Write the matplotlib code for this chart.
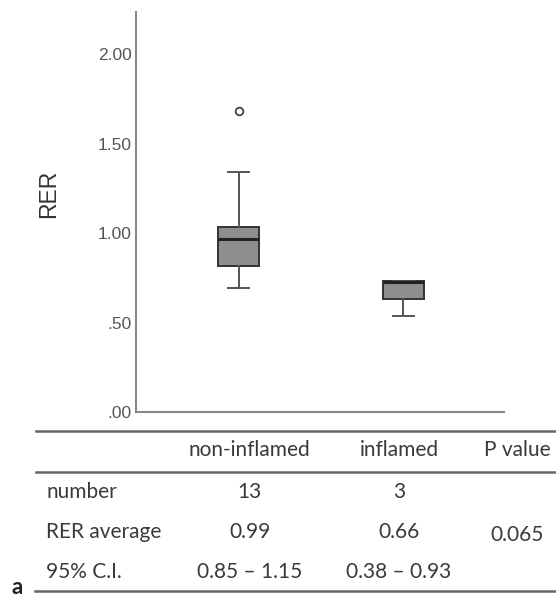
import matplotlib.pyplot as plt

# box statistics
groups = ["non-inflamed", "inflamed"]
q1 = [0.816, 0.63]
med = [0.965, 0.725]
q3 = [1.035, 0.732]
whislo = [0.691, 0.538]
whishi = [1.339, 0.732]
outliers = [[1.683], []]

yticks = [0.0, 0.5, 1.0, 1.5, 2.0]
yticklabels = [".00", ".50", "1.00", "1.50", "2.00"]

# table under the chart
header = ["non-inflamed", "inflamed", "P value"]
row_names = ["number", "RER average", "95% C.I."]
row_vals = [["13", "3", ""],
            ["0.99", "0.66", "0.065"],
            ["0.85 \u2013 1.15", "0.38 \u2013 0.93", ""]]

fig = plt.figure(figsize=(5.56, 5.96), dpi=100)
W, H = 556, 596
# axes box in pixels: x 136..504, y 12..412
ax = fig.add_axes([136 / W, 1 - 412 / H, (504 - 136) / W, (412 - 12) / H])

stats = []
for i in range(len(groups)):
    stats.append(dict(q1=q1[i], med=med[i], q3=q3[i], whislo=whislo[i],
                      whishi=whishi[i], fliers=outliers[i]))

ax.bxp(stats, positions=[1, 2], widths=0.25, patch_artist=True, showcaps=True,
       boxprops=dict(facecolor="#8e8e8e", edgecolor="#333333", linewidth=1.4),
       medianprops=dict(color="#222222", linewidth=2.2),
       whiskerprops=dict(color="#555555", linewidth=1.4),
       capprops=dict(color="#555555", linewidth=1.4),
       flierprops=dict(marker="o", markersize=5.5, markerfacecolor="white",
                       markeredgecolor="#444444", markeredgewidth=1.3))

ax.set_xlim(0.378, 2.611)
ax.set_ylim(0, 2.235)
ax.set_yticks(yticks)
ax.set_yticklabels(yticklabels, family="Liberation Sans", fontsize=12.5, color="#555555")
ax.set_xticks([])
ax.tick_params(axis="y", length=0, pad=3)
for s in ["top", "right"]:
    ax.spines[s].set_visible(False)
for s in ["left", "bottom"]:
    ax.spines[s].set_color("#888888")
    ax.spines[s].set_linewidth(1.5)

fig.text(49 / W, 1 - 194 / H, "RER", rotation=90, ha="center", va="center",
         family="Liberation Sans", fontsize=16.5, color="#333333")

# table lines
for y, x0 in [(431, 36), (471.5, 36), (591, 35)]:
    fig.add_artist(plt.Line2D([x0 / W, 1], [1 - y / H, 1 - y / H],
                              color="#666666", linewidth=1.8))

tfont = dict(family="Lato", fontsize=15, color="#3a3a3a", va="center")
col_x = [249.5, 399, 517]
for j, h in enumerate(header):
    fig.text(col_x[j] / W, 1 - 450 / H, h, ha="center", **tfont)

row_y = [492, 532, 572]
for i, name in enumerate(row_names):
    fig.text(46 / W, 1 - row_y[i] / H, name, ha="left", **tfont)
    for j, v in enumerate(row_vals[i]):
        if v:
            yy = 535 if j == 2 else row_y[i]
            fig.text(col_x[j] / W, 1 - yy / H, v, ha="center", **tfont)

fig.text(17 / W, 1 - 587 / H, "a", ha="center", va="center", family="Lato",
         fontsize=16, fontweight="bold", color="#222222")

fig.savefig("out.png", dpi=100)
